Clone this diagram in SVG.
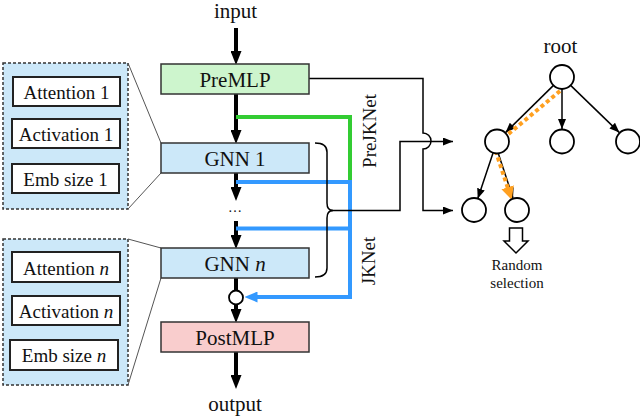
<svg xmlns="http://www.w3.org/2000/svg" width="640" height="418" viewBox="0 0 640 418">
<style>
text{font-family:"Liberation Serif","Times New Roman",serif;fill:#111;text-anchor:middle}
.big{font-size:21px}
.mid{font-size:19px}
.sm{font-size:15px}
.box{stroke:#333;stroke-width:1.5}
.inner{fill:#fff;stroke:#222;stroke-width:2}
.panel{fill:#cce8f9;stroke:#333;stroke-width:1.5;stroke-dasharray:3 2}
.thick{stroke:#000;stroke-width:4;fill:none}
.thin{stroke:#000;stroke-width:1.5;fill:none}
.zoomline{stroke:#555;stroke-width:1;fill:none}
.blue{stroke:#3399ff;stroke-width:4;fill:none}
.green{stroke:#33cc33;stroke-width:4;fill:none}
.orange{stroke:#ffa020;stroke-width:4;fill:none;stroke-dasharray:4 3}
.node{fill:#fff;stroke:#000;stroke-width:1.8}
</style>
<defs>
<marker id="ah" markerUnits="userSpaceOnUse" markerWidth="14" markerHeight="11" refX="7" refY="5.5" orient="auto"><path d="M0,0 L14,5.5 L0,11 z" fill="#000"/></marker>
<marker id="ahb" markerUnits="userSpaceOnUse" markerWidth="13" markerHeight="11" refX="7" refY="5.5" orient="auto"><path d="M0,0 L13,5.5 L0,11 z" fill="#3399ff"/></marker>
<marker id="aht" markerUnits="userSpaceOnUse" markerWidth="10" markerHeight="8" refX="10" refY="4" orient="auto"><path d="M0,0 L10,4 L0,8 z" fill="#000"/></marker>
<marker id="aho" markerUnits="userSpaceOnUse" markerWidth="13" markerHeight="13" refX="6" refY="6.5" orient="auto"><path d="M0,0 L13,6.5 L0,13 z" fill="#ffa020"/></marker>
</defs>

<g id="panel1">
<rect class="panel" x="3" y="63" width="125" height="146"/>
<g id="attention1"><rect class="inner" x="13" y="77" width="107" height="29"/><text class="mid" x="66.5" y="99">Attention 1</text></g>
<g id="activation1"><rect class="inner" x="12" y="119" width="108" height="29"/><text class="mid" x="66" y="141">Activation 1</text></g>
<g id="embsize1"><rect class="inner" x="12" y="164" width="107" height="29"/><text class="mid" x="65.5" y="186">Emb size 1</text></g>
</g>
<g id="panel2">
<rect class="panel" x="3" y="239" width="125" height="146"/>
<g id="attentionn"><rect class="inner" x="12" y="252" width="108" height="30"/><text class="mid" x="66" y="275">Attention <tspan font-style="italic">n</tspan></text></g>
<g id="activationn"><rect class="inner" x="12" y="296" width="108" height="29"/><text class="mid" x="66" y="318">Activation <tspan font-style="italic">n</tspan></text></g>
<g id="embsizen"><rect class="inner" x="10" y="340" width="108" height="30"/><text class="mid" x="64" y="362">Emb size <tspan font-style="italic">n</tspan></text></g>
</g>

<g id="connectors">
<path class="zoomline" d="M128,63 L161,143 M128,209 L161,173 M128,239 L161,248 M128,385 L161,278"/>
<path class="thick" d="M236,28 V58" marker-end="url(#ah)"/>
<path class="thick" d="M236,94 V137" marker-end="url(#ah)"/>
<path class="thick" d="M236,173 V194" marker-end="url(#ah)"/>
<path class="thick" d="M236,221 V242" marker-end="url(#ah)"/>
<path class="thick" d="M236,278 V291"/>
<path class="thick" d="M236,304 V316" marker-end="url(#ah)"/>
<path class="thick" d="M236,352 V382" marker-end="url(#ah)"/>
<path class="green" d="M236,117 H350 V181"/>
<path class="blue" d="M236,182 H350 M236,228.5 H350"/>
<path class="blue" d="M350,180 V297 H250.5" marker-end="url(#ahb)"/>
<path class="thin" stroke-width="2" d="M315,143 Q327,143 327,152 L327,203 Q327,210.5 333,210.5 Q327,210.5 327,218 L327,268 Q327,277 315,277"/>
<path class="thin" d="M331,210.5 H400 V141.5 H453" marker-end="url(#aht)"/>
<path class="thin" d="M309,78.5 H423 V133 A8,8 0 0 1 423,149 V210.5 H453" marker-end="url(#aht)"/>
<path class="thin" d="M553.5,85.4 L505.5,132.6" marker-end="url(#aht)"/>
<path class="thin" d="M562,89 V129" marker-end="url(#aht)"/>
<path class="thin" d="M570.6,85.4 L619.4,132.6" marker-end="url(#aht)"/>
<path class="thin" d="M493.2,152.4 L477.8,198.6" marker-end="url(#aht)"/>
<path class="thin" d="M498,152.5 L513,198" marker-end="url(#aht)"/>
<path class="orange" d="M560,91 L494,146 L509.5,193" marker-end="url(#aho)"/>
</g>

<g id="input"><text class="big" x="235.5" y="18">input</text></g>
<g id="premlp"><rect class="box" fill="#cdf5cd" x="161" y="64" width="148" height="30"/><text class="big" x="235" y="87">PreMLP</text></g>
<g id="gnn1"><rect class="box" fill="#cce8f9" x="161" y="143" width="148" height="30"/><text class="big" x="235" y="166">GNN 1</text></g>
<g id="dots"><text x="235" y="212" font-size="14">…</text></g>
<g id="gnnn"><rect class="box" fill="#cce8f9" x="161" y="248" width="148" height="30"/><text class="big" x="235" y="271">GNN <tspan font-style="italic">n</tspan></text></g>
<g id="merge"><circle cx="236" cy="297.5" r="7" fill="#fff" stroke="#000" stroke-width="1.8"/></g>
<g id="postmlp"><rect class="box" fill="#f9cdcd" x="161" y="322" width="148" height="30"/><text class="big" x="235" y="345">PostMLP</text></g>
<g id="output"><text class="big" x="235" y="411">output</text></g>

<g id="prejknet"><text class="mid" transform="translate(376,131) rotate(-90)" x="0" y="0">PreJKNet</text></g>
<g id="jknet"><text class="mid" transform="translate(375,261) rotate(-90)" x="0" y="0">JKNet</text></g>

<g id="tree">
<text class="big" x="560.5" y="53">root</text>
<circle class="node" cx="562" cy="77" r="12"/>
<circle class="node" cx="497" cy="141.5" r="12"/>
<circle class="node" cx="562" cy="141.5" r="12"/>
<circle class="node" cx="628" cy="141.5" r="12"/>
<circle class="node" cx="474" cy="210" r="12"/>
<circle class="node" cx="517" cy="210" r="12"/>
</g>
<g id="random">
<polygon points="509.5,228 522.5,228 522.5,241 528,241 516,253 504,241 509.5,241" fill="#fff" stroke="#000" stroke-width="1.5"/>
<text class="sm" x="517" y="270">Random</text>
<text class="sm" x="517" y="288">selection</text>
</g>
</svg>
